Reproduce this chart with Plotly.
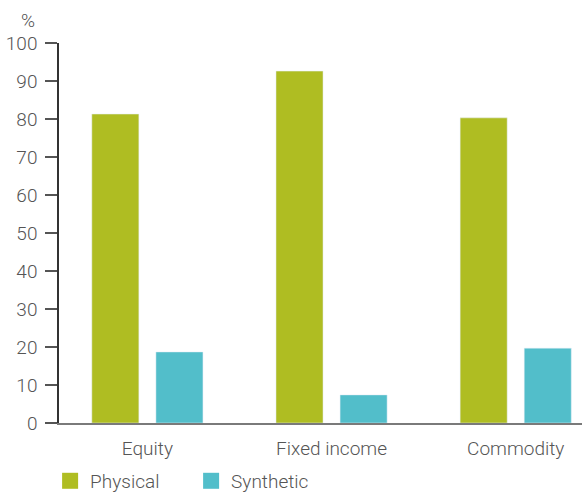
import plotly.graph_objects as go

categories = ["Equity", "Fixed income", "Commodity"]
physical = [81.3, 92.6, 80.3]
synthetic = [18.7, 7.4, 19.7]
y_ticks = [0, 10, 20, 30, 40, 50, 60, 70, 80, 90, 100]

GREEN = "#AFBD22"
CYAN = "#52BECA"
TXT = "#555555"
FONT = "Roboto"
FW = 300
FS = 19

fig = go.Figure()
fig.add_trace(go.Bar(x=categories, y=physical, name="Physical", marker_color=GREEN,
                     showlegend=False))
fig.add_trace(go.Bar(x=categories, y=synthetic, name="Synthetic", marker_color=CYAN,
                     showlegend=False))
# legend entries with larger square swatches
fig.add_trace(go.Scatter(x=[None], y=[None], mode="markers", name="Physical",
                         marker=dict(symbol="square", size=16, color=GREEN)))
fig.add_trace(go.Scatter(x=[None], y=[None], mode="markers", name="Synthetic",
                         marker=dict(symbol="square", size=16, color=CYAN)))

fig.update_layout(
    width=582, height=493,
    margin=dict(l=59, r=0, t=43, b=70, autoexpand=False),
    paper_bgcolor="white", plot_bgcolor="white",
    font=dict(family=FONT, size=FS, color=TXT, weight=FW),
    barmode="group", bargap=0.304, bargroupgap=0.266,
    showlegend=True,
    legend=dict(orientation="h", xref="paper", x=-0.017, xanchor="left",
                yref="container", y=0.063, yanchor="top",
                font=dict(size=FS, color=TXT, family=FONT, weight=FW),
                entrywidth=96, entrywidthmode="pixels",
                itemsizing="trace", bgcolor="rgba(0,0,0,0)"),
    annotations=[dict(text="%", xref="paper", yref="paper", x=-0.0593, y=1.0,
                      xanchor="center", yanchor="middle", yshift=23, showarrow=False,
                      font=dict(size=FS, color=TXT, family=FONT, weight=FW))],
)
fig.update_xaxes(type="category", range=[-0.48, 2.36], showline=True, linecolor="#7a7a7a",
                 linewidth=1.5, ticks="", showgrid=False, zeroline=False, automargin=False,
                 tickfont=dict(size=FS, color=TXT, family=FONT, weight=FW),
                 ticklabelstandoff=7)
fig.update_yaxes(range=[0, 100], tickvals=y_ticks, showline=True, linecolor="#333333",
                 linewidth=1.5, ticks="outside", ticklen=12, tickcolor="#555555",
                 tickwidth=1.5, showgrid=False, zeroline=False, automargin=False,
                 tickfont=dict(size=FS, color=TXT, family=FONT, weight=FW),
                 ticklabelstandoff=4)

fig.write_html("out.html",
               config={"displayModeBar": False},
               post_script="document.body.style.margin='0px';"
                           "document.body.style.overflow='hidden';")
